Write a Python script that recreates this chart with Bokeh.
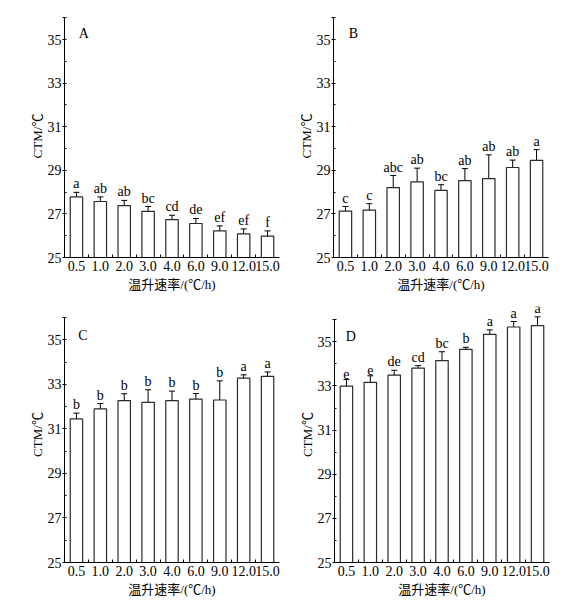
from bokeh.plotting import figure
from bokeh.layouts import column, row
from bokeh.models import ColumnDataSource, Whisker, FixedTicker, TeeHead, Range1d
from bokeh.core.properties import value
from bokeh.embed import file_html
from bokeh.resources import INLINE

rates = ["0.5", "1.0", "2.0", "3.0", "4.0", "6.0", "9.0", "12.0", "15.0"]
xlabel = "温升速率/(℃/h)"
ylabel = "CTM/℃"

a_mean = [27.78, 27.57, 27.38, 27.12, 26.74, 26.56, 26.22, 26.08, 25.98]
a_err = [0.21, 0.21, 0.24, 0.22, 0.20, 0.23, 0.23, 0.23, 0.24]
a_let = ["a", "ab", "ab", "bc", "cd", "de", "ef", "ef", "f"]

b_mean = [27.13, 27.17, 28.21, 28.47, 28.08, 28.53, 28.62, 29.13, 29.46]
b_err = [0.21, 0.30, 0.55, 0.63, 0.26, 0.55, 1.09, 0.34, 0.49]
b_let = ["c", "c", "abc", "ab", "bc", "ab", "ab", "ab", "a"]

c_mean = [31.45, 31.90, 32.27, 32.19, 32.27, 32.34, 32.30, 33.28, 33.36]
c_err = [0.26, 0.24, 0.31, 0.57, 0.43, 0.25, 0.86, 0.15, 0.20]
c_let = ["b", "b", "b", "b", "b", "b", "b", "a", "a"]

d_mean = [32.99, 33.16, 33.49, 33.81, 34.15, 34.66, 35.34, 35.67, 35.73]
d_err = [0.30, 0.30, 0.22, 0.11, 0.40, 0.09, 0.20, 0.25, 0.40]
d_let = ["e", "e", "de", "cd", "bc", "b", "a", "a", "a"]

SERIF = "'Liberation Serif', 'Noto Sans CJK SC'"


def panel(tag, mean, err, let, y_end, w, h, bl, br, bt, bb, tag_x, tag_y):
    xs = list(range(1, len(rates) + 1))
    src = ColumnDataSource(dict(
        x=xs, top=mean,
        upper=[m + e for m, e in zip(mean, err)],
        lower=[m - e for m, e in zip(mean, err)],
        let=let,
    ))
    p = figure(width=w, height=h, output_backend="svg", toolbar_location=None,
               x_range=Range1d(0.5, 9.5), y_range=Range1d(25, y_end),
               min_border_left=bl, min_border_right=br,
               min_border_top=bt, min_border_bottom=bb)
    p.outline_line_color = None
    p.xgrid.visible = False
    p.ygrid.visible = False
    p.background_fill_color = "white"
    p.border_fill_color = "white"

    p.vbar(x="x", top="top", bottom=25, width=0.52, source=src,
           fill_color="white", line_color="#2a2a2a", line_width=1.2)
    wh = Whisker(source=src, base="x", upper="upper", lower="lower",
                 line_color="black", line_width=1,
                 upper_head=TeeHead(size=6, line_color="black", line_width=1),
                 lower_head=TeeHead(size=6, line_color="black", line_width=1))
    p.add_layout(wh)
    p.text(x="x", y="upper", text="let", source=src,
           text_font=value(SERIF), text_font_size="14px",
           text_align="center", text_baseline="bottom", y_offset=-1,
           text_color="black")
    p.text(x=[tag_x], y=[tag_y], text=[tag], text_font=value(SERIF),
           text_font_size="14px", text_align="left", text_baseline="middle",
           text_color="black")

    # x axis
    xa = p.xaxis[0]
    xa.ticker = FixedTicker(ticks=xs, minor_ticks=[i + 0.5 for i in xs[:-1]])
    xa.major_label_overrides = {i: r for i, r in zip(xs, rates)}
    xa.major_tick_in = 0
    xa.major_tick_out = 0
    xa.minor_tick_in = 3
    xa.minor_tick_out = 0
    xa.major_label_standoff = 3
    xa.axis_label = xlabel
    xa.axis_label_standoff = 3
    xa.bounds = (0.5, 9.5)

    # y axis
    ya = p.yaxis[0]
    ya.ticker = FixedTicker(ticks=[25, 27, 29, 31, 33, 35, 36],
                            minor_ticks=list(range(25, 37)))
    ya.major_label_overrides = {36: ""}
    ya.major_tick_in = 0
    ya.major_tick_out = 2
    ya.minor_tick_in = 2
    ya.minor_tick_out = 0
    ya.major_label_standoff = 1
    ya.axis_label = ylabel
    ya.axis_label_standoff = 0
    ya.bounds = (25, 36)

    for ax in (xa, ya):
        ax.axis_line_color = "black"
        ax.axis_line_width = 1
        ax.major_tick_line_color = "black"
        ax.minor_tick_line_color = "black"
        ax.major_label_text_font = SERIF
        ax.major_label_text_font_size = "14px"
        ax.major_label_text_color = "black"
        ax.axis_label_text_font = SERIF
        ax.axis_label_text_font_size = "13px"
        ax.axis_label_text_font_style = "normal"
        ax.axis_label_text_color = "black"
    return p


pA = panel("A", a_mean, a_err, a_let, 36.15, 287, 300, 64, 8, 14, 43, 1.1, 35.3)
pB = panel("B", b_mean, b_err, b_let, 36.15, 286, 300, 46, 25, 8, 43, 1.14, 35.3)
pC = panel("C", c_mean, c_err, c_let, 36.5, 287, 300, 64, 8, 6, 38, 1.08, 35.2)
pD = panel("D", d_mean, d_err, d_let, 36.6, 286, 300, 47, 24, 3, 38, 0.97, 35.22)

layout = column(row(pA, pB), row(pC, pD))
open("out.html", "w").write(file_html(layout, INLINE))
